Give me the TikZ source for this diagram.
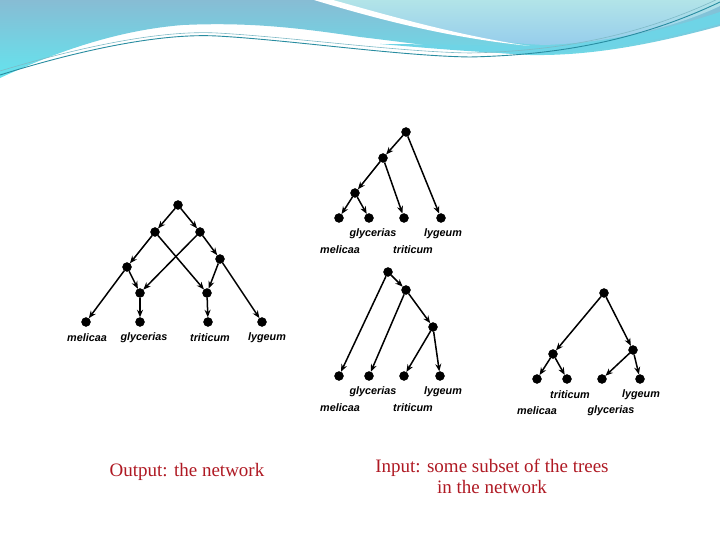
\documentclass[tikz,border=0pt]{standalone}
\usepackage{fontspec}
\setmainfont{Liberation Serif}
\setsansfont{Liberation Sans}
\usetikzlibrary{arrows.meta}
\definecolor{captionred}{RGB}{175,25,35}
\definecolor{teal1}{RGB}{40,140,160}
\begin{document}
\begin{tikzpicture}[x=1pt,y=-1pt,
  dot/.style={draw, circle, fill=black, inner sep=0pt, minimum size=9pt},
  edge/.style={draw, line width=1.5pt, -{Stealth[length=7.5pt,width=6pt]}},
  taxon/.style={font=\sffamily\bfseries\itshape\fontsize{10.8}{12}\selectfont},
  caption/.style={text=captionred, font=\fontsize{19}{21}\selectfont, align=center}]
\useasboundingbox (0,0) rectangle (720,540);

% header swoosh
\shade[top color={rgb,255:red,135;green,188;blue,212}, bottom color={rgb,255:red,100;green,228;blue,238}]
  (0,0) -- (720,0) -- (720,26) .. controls (650,45) and (590,56) .. (530,55)
  .. controls (470,52) and (420,44) .. (360,37)
  .. controls (300,28) and (250,22) .. (183,25)
  .. controls (120,30) and (60,50) .. (0,78) -- cycle;
\fill[color={rgb,255:red,110;green,212;blue,230}]
  (380,44) .. controls (450,50) and (500,54) .. (540,54)
  .. controls (610,50) and (670,38) .. (720,24) -- (720,12)
  .. controls (660,32) and (600,44) .. (545,46)
  .. controls (480,46) and (430,44) .. (380,44) -- cycle;
\shade[top color={rgb,255:red,178;green,228;blue,232}, bottom color={rgb,255:red,150;green,205;blue,236}]
  (325,0) .. controls (390,22) and (470,42) .. (545,45)
  .. controls (620,42) and (680,25) .. (720,6) -- (720,0) -- cycle;
\fill[white] (314,0) .. controls (380,20) and (450,38) .. (530,46)
  .. controls (460,36) and (390,16) .. (333,0) -- cycle;
\draw[teal1, line width=0.9pt] (0,75) .. controls (80,50) and (160,33) .. (217,36)
  .. controls (290,40) and (400,56) .. (470,57)
  .. controls (560,55) and (640,40) .. (720,2);
\draw[teal1!60, line width=0.6pt] (0,71) .. controls (80,47) and (160,30) .. (217,33)
  .. controls (290,37) and (400,52) .. (470,53)
  .. controls (560,51) and (640,36) .. (720,-2);

% the network
\node[dot] (r) at (178,205) {};
\node[dot] (a) at (155,232) {};
\node[dot] (b) at (200,232) {};
\node[dot] (c) at (127,267) {};
\node[dot] (d) at (220,259) {};
\node[dot] (h1) at (140,293) {};
\node[dot] (h2) at (207,293) {};
\node[dot] (m) at (86,322) {};
\node[dot] (g) at (140,322) {};
\node[dot] (t) at (208,322) {};
\node[dot] (l) at (262,322) {};

\path[edge] (r) -- (a);
\path[edge] (r) -- (b);
\path[edge] (a) -- (c);
\path[edge] (a) -- (h2);
\path[edge] (b) -- (h1);
\path[edge] (b) -- (d);
\path[edge] (c) -- (m);
\path[edge] (c) -- (h1);
\path[edge] (d) -- (h2);
\path[edge] (d) -- (l);
\path[edge] (h1) -- (g);
\path[edge] (h2) -- (t);

\node[taxon] (ml) at (87,338) {melicaa};
\node[taxon] (gl) at (144,338) {glycerias};
\node[taxon] (tl) at (210,338) {triticum};
\node[taxon] (ll) at (267,338) {lygeum};

% tree 1
\node[dot] (1r) at (406,132) {};
\node[dot] (1a) at (383,158) {};
\node[dot] (1b) at (355,193) {};
\node[dot] (1m) at (339,218) {};
\node[dot] (1g) at (369,218) {};
\node[dot] (1t) at (404,218) {};
\node[dot] (1l) at (441,218) {};

\path[edge] (1r) -- (1a);
\path[edge] (1r) -- (1l);
\path[edge] (1a) -- (1b);
\path[edge] (1a) -- (1t);
\path[edge] (1b) -- (1m);
\path[edge] (1b) -- (1g);

\node[taxon] (1gl) at (373,234) {glycerias};
\node[taxon] (1ll) at (443,234) {lygeum};
\node[taxon] (1ml) at (340,250) {melicaa};
\node[taxon] (1tl) at (413,250) {triticum};

% tree 2
\node[dot] (2r) at (388,272) {};
\node[dot] (2a) at (406,290) {};
\node[dot] (2b) at (433,327) {};
\node[dot] (2m) at (339,376) {};
\node[dot] (2g) at (369,376) {};
\node[dot] (2t) at (404,376) {};
\node[dot] (2l) at (440,376) {};

\path[edge] (2r) -- (2m);
\path[edge] (2r) -- (2a);
\path[edge] (2a) -- (2g);
\path[edge] (2a) -- (2b);
\path[edge] (2b) -- (2t);
\path[edge] (2b) -- (2l);

\node[taxon] (2gl) at (373,392) {glycerias};
\node[taxon] (2ll) at (443,392) {lygeum};
\node[taxon] (2ml) at (340,408) {melicaa};
\node[taxon] (2tl) at (413,408) {triticum};

% tree 3
\node[dot] (3r) at (604,293) {};
\node[dot] (3a) at (553,354) {};
\node[dot] (3b) at (633,350) {};
\node[dot] (3m) at (537,379) {};
\node[dot] (3t) at (567,379) {};
\node[dot] (3g) at (602,379) {};
\node[dot] (3l) at (640,379) {};

\path[edge] (3r) -- (3a);
\path[edge] (3r) -- (3b);
\path[edge] (3a) -- (3m);
\path[edge] (3a) -- (3t);
\path[edge] (3b) -- (3g);
\path[edge] (3b) -- (3l);

\node[taxon] (3tl) at (570,395) {triticum};
\node[taxon] (3ll) at (641,395) {lygeum};
\node[taxon] (3ml) at (537,411) {melicaa};
\node[taxon] (3gl) at (611,411) {glycerias};

% captions
\node[caption] (out) at (187,472) {Output: the network};
\node[caption] (in) at (492,476) {Input: some subset of the trees\\in the network};
\end{tikzpicture}
\end{document}
